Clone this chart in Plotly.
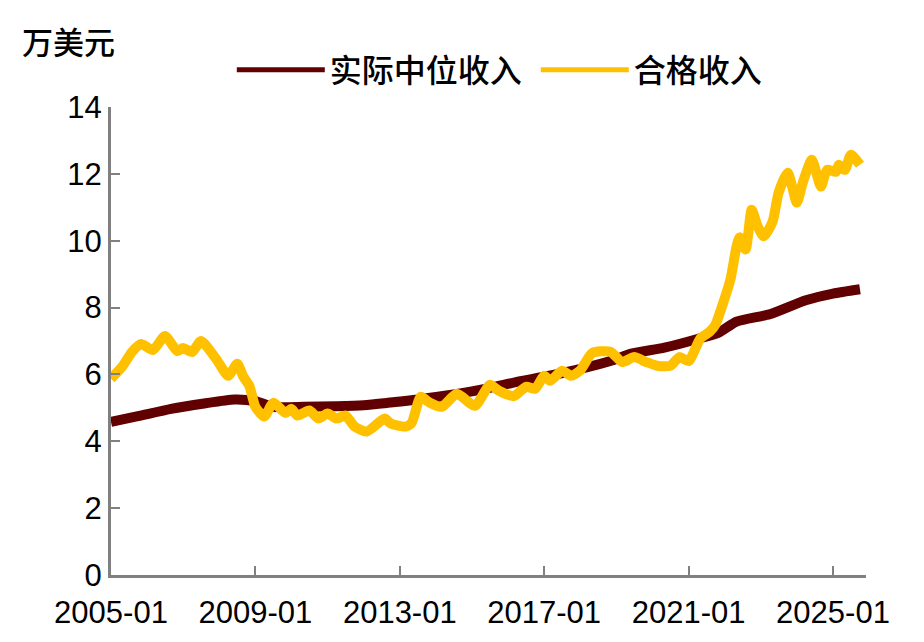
import plotly.graph_objects as go

# ---- data ----
median_dates = ["2005-01", "2005-10", "2006-09", "2007-08", "2008-06", "2009-01", "2009-07",
                "2010-05", "2011-04", "2012-01", "2012-09", "2013-07", "2014-07", "2015-07",
                "2016-04", "2017-01", "2017-11", "2018-11", "2019-06", "2020-05", "2021-04",
                "2021-11", "2022-05", "2023-04", "2024-04", "2025-01", "2025-10"]
median_values = [4.58, 4.75, 4.97, 5.13, 5.25, 5.20, 5.03,
                 5.03, 5.05, 5.08, 5.15, 5.25, 5.40, 5.60,
                 5.78, 5.93, 6.12, 6.40, 6.62, 6.80, 7.06,
                 7.25, 7.58, 7.80, 8.22, 8.42, 8.55]

qual_dates = ["2005-01", "2005-05", "2005-08", "2005-11", "2006-03", "2006-07", "2006-11",
              "2007-01", "2007-04", "2007-07", "2007-12", "2008-04", "2008-07", "2008-09",
              "2008-11", "2009-01", "2009-04", "2009-07", "2009-11", "2010-01", "2010-03",
              "2010-07", "2010-10", "2011-01", "2011-04", "2011-07", "2011-10", "2012-02",
              "2012-08", "2012-10", "2013-03", "2013-05", "2013-08", "2013-11", "2014-03",
              "2014-08", "2015-02", "2015-07", "2015-10", "2016-03", "2016-07", "2016-10",
              "2017-01", "2017-03", "2017-07", "2017-10", "2018-01", "2018-05", "2018-11",
              "2019-03", "2019-07", "2019-11", "2020-03", "2020-07", "2020-10", "2021-01",
              "2021-05", "2021-08", "2021-10", "2021-12", "2022-03", "2022-05", "2022-06",
              "2022-08", "2022-10", "2022-12", "2023-02", "2023-05", "2023-07", "2023-10",
              "2024-01", "2024-03", "2024-06", "2024-09", "2024-11", "2025-02", "2025-03",
              "2025-05", "2025-07", "2025-10"]
qual_values = [5.87, 6.26, 6.67, 6.91, 6.73, 7.15, 6.70,
               6.79, 6.67, 7.00, 6.46, 5.96, 6.32, 5.93,
               5.66, 5.03, 4.74, 5.15, 4.85, 4.97, 4.77,
               4.92, 4.68, 4.83, 4.68, 4.77, 4.44, 4.29,
               4.68, 4.53, 4.44, 4.55, 5.33, 5.15, 5.03,
               5.42, 5.06, 5.69, 5.51, 5.35, 5.63, 5.57,
               5.96, 5.81, 6.11, 5.96, 6.12, 6.64, 6.68,
               6.37, 6.52, 6.37, 6.25, 6.26, 6.52, 6.40,
               7.08, 7.27, 7.50, 8.00, 8.85, 9.83, 10.10,
               9.74, 10.93, 10.43, 10.13, 10.57, 11.44, 12.03,
               11.14, 11.74, 12.42, 11.62, 12.12, 12.06, 12.27,
               12.12, 12.57, 12.27]

series_names = ["实际中位收入", "合格收入"]
x_tick_vals = ["2005-01-01", "2009-01-01", "2013-01-01", "2017-01-01", "2021-01-01", "2025-01-01"]
x_tick_text = ["2005-01", "2009-01", "2013-01", "2017-01", "2021-01", "2025-01"]
y_tick_vals = [0, 2, 4, 6, 8, 10, 12, 14]
unit_label = "万美元"

RED = "#600000"
GOLD = "#FFC000"
AXIS = "#808080"
TICK_FONT = dict(family="Liberation Sans, Arial, sans-serif", size=31, color="#000000")
CJK_FONT = dict(family="Noto Sans CJK SC, sans-serif", size=32, color="#000000", weight=500)
UNIT_FONT = dict(family="Noto Sans CJK SC, sans-serif", size=31, color="#000000", weight=500)

fig = go.Figure()
fig.add_trace(go.Scatter(x=median_dates, y=median_values, mode="lines", name=series_names[0],
                         line=dict(color=RED, width=10, shape="spline", smoothing=0.6)))
fig.add_trace(go.Scatter(x=qual_dates, y=qual_values, mode="lines", name=series_names[1],
                         line=dict(color=GOLD, width=10, shape="spline", smoothing=0.6)))

fig.update_layout(
    width=916, height=634,
    margin=dict(l=103, r=58, t=99, b=65),
    paper_bgcolor="white", plot_bgcolor="white",
    showlegend=True,
    legend=dict(orientation="h", x=0.160, y=1.079, xanchor="left", yanchor="middle",
                font=CJK_FONT, itemwidth=88, entrywidth=201, bgcolor="rgba(0,0,0,0)",
                tracegroupgap=0, itemsizing="constant"),
    annotations=[dict(text=unit_label, xref="paper", yref="paper", x=-0.12, y=1.143,
                      xanchor="left", yanchor="middle", showarrow=False, font=UNIT_FONT)],
)
fig.update_xaxes(type="date", range=["2005-01-01", "2025-12-01"],
                 tickvals=x_tick_vals, ticktext=x_tick_text,
                 showline=True, linecolor=AXIS, linewidth=3,
                 ticks="inside", ticklen=9, tickwidth=2, tickcolor=AXIS,
                 showgrid=False, zeroline=False, tickfont=TICK_FONT, ticklabelstandoff=8)
fig.update_yaxes(range=[0, 14], tickvals=y_tick_vals,
                 showline=True, linecolor=AXIS, linewidth=3,
                 ticks="inside", ticklen=9, tickwidth=2, tickcolor=AXIS,
                 showgrid=False, zeroline=False, tickfont=TICK_FONT, ticklabelstandoff=0)

fig.write_html("out.html")
